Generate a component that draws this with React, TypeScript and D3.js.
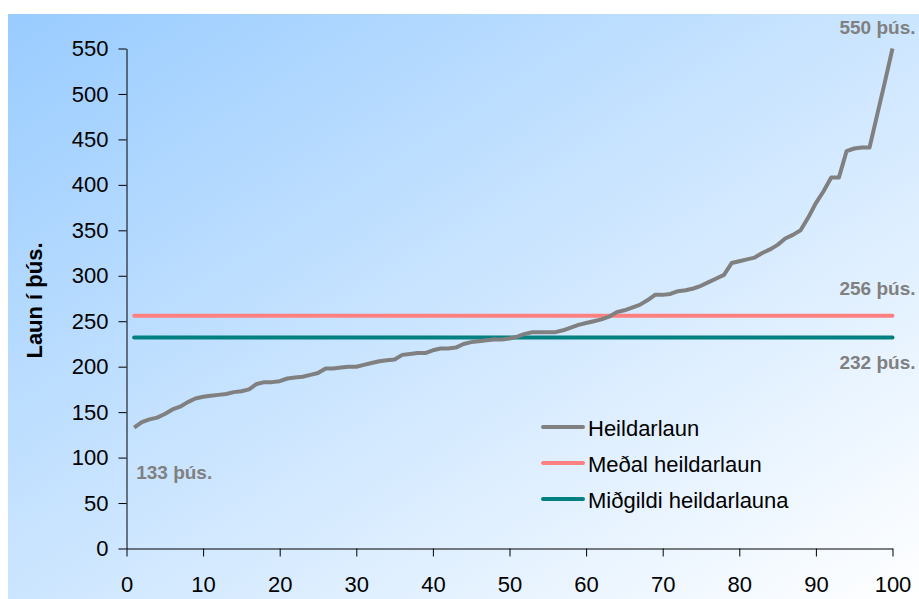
import { useEffect, useRef } from "react";
import * as d3 from "d3";

// Heildarlaun sorted ascending, one value per person (þús. kr.)
const heildarlaun = [
  133, 139, 142, 144, 148, 153, 156, 161, 165, 167,
  168, 169, 170, 172, 173, 175, 181, 183, 183, 184,
  187, 188, 189, 191, 193, 198, 198, 199, 200, 200,
  202, 204, 206, 207, 208, 213, 214, 215, 215, 218,
  220, 220, 221, 225, 227, 228, 229, 230, 230, 231,
  233, 236, 238, 238, 238, 238, 240, 243, 246, 248,
  250, 252, 255, 260, 262, 265, 268, 273, 279, 279,
  280, 283, 284, 286, 289, 293, 297, 301, 314, 316,
  318, 320, 325, 329, 334, 341, 345, 350, 364, 380,
  393, 408, 408, 437, 440, 441, 441, 477, 513, 550,
];
const medal = 256;
const midgildi = 232;

const yTicks = [0, 50, 100, 150, 200, 250, 300, 350, 400, 450, 500, 550];
const xTicks = [0, 10, 20, 30, 40, 50, 60, 70, 80, 90, 100];

const legendItems = [
  { label: "Heildarlaun", color: "#808080" },
  { label: "Meðal heildarlaun", color: "#FF8080" },
  { label: "Miðgildi heildarlauna", color: "#008080" },
];

const WIDTH = 919;
const HEIGHT = 599;
const FONT = "'Liberation Sans', Arial, Helvetica, sans-serif";

export default function App() {
  const svgRef = useRef<SVGSVGElement | null>(null);

  useEffect(() => {
    if (!svgRef.current) return;
    const svg = d3.select(svgRef.current);
    svg.selectAll("*").remove();

    const x = d3.scaleLinear().domain([0, 100]).range([126.5, 892.5]);
    const y = d3.scaleLinear().domain([0, 550]).range([548.5, 48.5]);

    // background gradient
    const defs = svg.append("defs");
    const grad = defs
      .append("linearGradient")
      .attr("id", "bg")
      .attr("x1", 0)
      .attr("y1", 0)
      .attr("x2", 1)
      .attr("y2", 1);
    grad.append("stop").attr("offset", "0%").attr("stop-color", "#99CCFF");
    grad.append("stop").attr("offset", "100%").attr("stop-color", "#FFFFFF");

    svg
      .append("rect")
      .attr("x", 8)
      .attr("y", 14)
      .attr("width", WIDTH - 8)
      .attr("height", HEIGHT - 14)
      .attr("fill", "url(#bg)");

    // axes
    const yAxis = d3
      .axisLeft(y)
      .tickValues(yTicks)
      .tickSize(8)
      .tickSizeOuter(0)
      .tickPadding(10);
    const xAxis = d3
      .axisBottom(x)
      .tickValues(xTicks)
      .tickSize(8)
      .tickSizeOuter(0)
      .tickPadding(20);

    const gy = svg.append("g").attr("transform", `translate(${x(0)},0)`).call(yAxis);
    const gx = svg.append("g").attr("transform", `translate(0,${y(0)})`).call(xAxis);

    [gx, gy].forEach((g) => {
      g.selectAll("path, line").attr("stroke", "#000").attr("stroke-width", 1);
      g.selectAll("text")
        .attr("fill", "#000")
        .style("font-family", FONT)
        .style("font-size", "22px");
    });

    // y axis title
    svg
      .append("text")
      .attr("transform", `translate(42,${(y(0) + y(550)) / 2 + 2}) rotate(-90)`)
      .attr("text-anchor", "middle")
      .style("font-family", FONT)
      .style("font-size", "22px")
      .style("font-weight", "bold")
      .attr("fill", "#000")
      .text("Laun í þús.");

    // mean and median lines
    const refLines = [
      { value: medal, color: "#FF8080" },
      { value: midgildi, color: "#008080" },
    ];
    refLines.forEach((r) => {
      svg
        .append("line")
        .attr("x1", x(1))
        .attr("x2", x(heildarlaun.length))
        .attr("y1", y(r.value))
        .attr("y2", y(r.value))
        .attr("stroke", r.color)
        .attr("stroke-width", 4)
        .attr("stroke-linecap", "round");
    });

    // salary line
    const line = d3
      .line<number>()
      .x((_d, i) => x(i + 1))
      .y((d) => y(d));

    svg
      .append("path")
      .datum(heildarlaun)
      .attr("d", line)
      .attr("fill", "none")
      .attr("stroke", "#808080")
      .attr("stroke-width", 4)
      .attr("stroke-linejoin", "round");

    // value annotations
    const labels = [
      { text: "550 þús.", x: x(100) + 23, y: y(550) - 15, anchor: "end" },
      { text: "256 þús.", x: x(100) + 23, y: y(medal) - 21, anchor: "end" },
      { text: "232 þús.", x: x(100) + 23, y: y(midgildi) + 31, anchor: "end" },
      { text: "133 þús.", x: x(1) + 2, y: y(133) + 51, anchor: "start" },
    ];
    labels.forEach((l) => {
      svg
        .append("text")
        .attr("x", l.x)
        .attr("y", l.y)
        .attr("text-anchor", l.anchor)
        .attr("fill", "#808080")
        .style("font-family", FONT)
        .style("font-size", "19px")
        .style("font-weight", "bold")
        .text(l.text);
    });

    // legend
    const legend = svg.append("g").attr("transform", "translate(543,427)");
    legendItems.forEach((item, i) => {
      const row = legend.append("g").attr("transform", `translate(0,${i * 36})`);
      row
        .append("line")
        .attr("x1", 0)
        .attr("x2", 40)
        .attr("stroke", item.color)
        .attr("stroke-width", 4)
        .attr("stroke-linecap", "round");
      row
        .append("text")
        .attr("x", 45)
        .attr("y", 9)
        .attr("fill", "#000")
        .style("font-family", FONT)
        .style("font-size", "22px")
        .text(item.label);
    });
  }, []);

  return (
    <svg
      ref={svgRef}
      width={WIDTH}
      height={HEIGHT}
      style={{ position: "absolute", left: 0, top: 0, display: "block" }}
    />
  );
}
